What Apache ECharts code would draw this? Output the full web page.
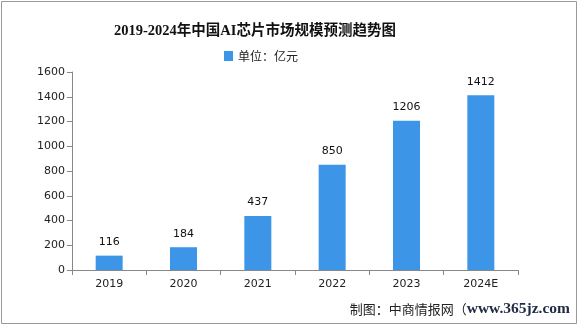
<!DOCTYPE html>
<html><head><meta charset="utf-8">
<script src="https://cdn.jsdelivr.net/npm/echarts@6/dist/echarts.min.js"></script>
<style>html,body{margin:0;padding:0;background:#fff}#c{width:585px;height:327px}</style>
</head><body><div id="c"></div>
<script>
const categories = ['2019','2020','2021','2022','2023','2024E'];
const values = [116,184,437,850,1206,1412];
const seriesName = '单位：亿元';
const titleText = '2019-2024年中国AI芯片市场规模预测趋势图';
const sourcePrefix = '制图：中商情报网（';
const sourceUrl = 'www.365jz.com';

const chart = echarts.init(document.getElementById('c'));
chart.setOption({
  animation:false,
  backgroundColor:'#fff',
  title:{text:titleText,left:109,top:19,textStyle:{fontFamily:'Liberation Serif, Noto Sans CJK SC',fontWeight:'bold',fontSize:14.5,color:'#111'}},
  legend:{top:45,left:219,icon:'rect',itemWidth:9,itemHeight:10,itemGap:4,data:[seriesName],textStyle:{fontFamily:'Noto Sans CJK SC',fontSize:12,color:'#222'}},
  grid:{left:72,right:67,top:72,bottom:57,containLabel:false},
  xAxis:{type:'category',data:categories,axisLine:{lineStyle:{color:'#888'}},axisTick:{show:true,alignWithLabel:false,lineStyle:{color:'#888'}},axisLabel:{color:'#222',fontSize:11,fontFamily:'DejaVu Sans',margin:9}},
  yAxis:{type:'value',min:0,max:1600,interval:200,axisLine:{show:true,lineStyle:{color:'#888'}},axisTick:{show:true,lineStyle:{color:'#888'}},splitLine:{show:false},axisLabel:{color:'#222',fontSize:11,fontFamily:'DejaVu Sans',margin:7,formatter:v=>String(v)}},
  series:[{name:seriesName,type:'bar',data:values,barWidth:27,itemStyle:{color:'#3d95e8'},label:{show:true,position:'top',distance:8,color:'#111',fontSize:11,fontFamily:'DejaVu Sans'}}],
  graphic:[
    {type:'rect',shape:{x:1.5,y:1.5,width:575,height:322},style:{fill:'none',stroke:'#999',lineWidth:1}},
    {type:'text',right:15,top:301,style:{text:'{a|'+sourcePrefix+'}{b|'+sourceUrl+'}',rich:{a:{fontSize:13,fontFamily:'Noto Sans CJK SC',fill:'#222'},b:{fontSize:15.5,fontFamily:'Liberation Serif',fontWeight:'bold',fill:'#1f2a44'}}}}
  ]
});
</script></body></html>
